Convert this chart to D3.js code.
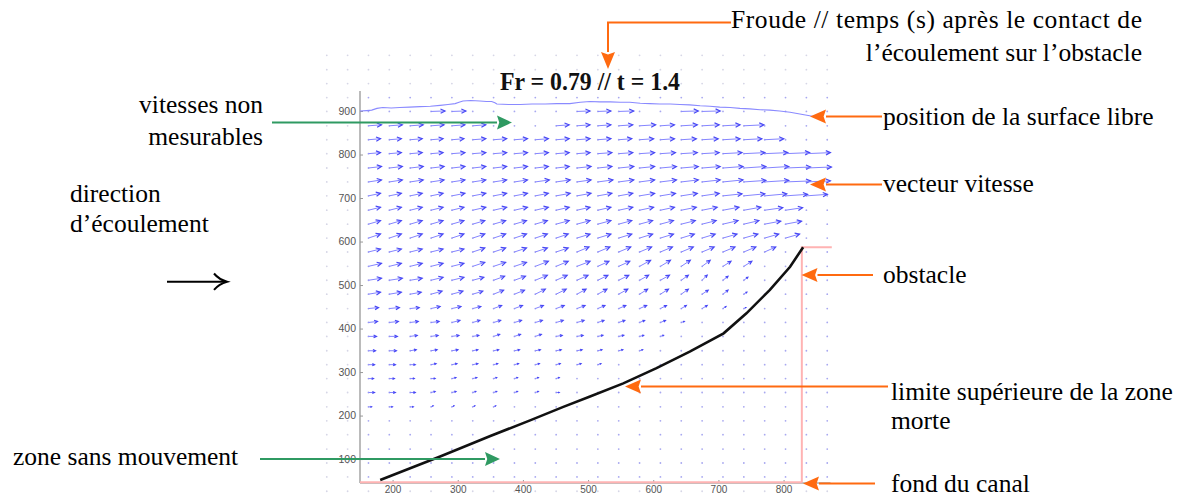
<!DOCTYPE html>
<html><head><meta charset="utf-8">
<script src="https://cdn.jsdelivr.net/npm/d3@7"></script>
<style>body{margin:0;background:#fff}svg{display:block}</style>
</head><body>
<svg id="c" width="1198" height="498"></svg>
<script>
// ---------- data ----------
const xTicks = [200,300,400,500,600,700,800];
const yTicks = [100,200,300,400,500,600,700,800,900];
const title = "Fr = 0.79 // t = 1.4";

// measurement grid (x and y positions of PIV nodes)
const gridCols = [99,131,163,195,227,259,291,323,355,387,419,451,483,515,547,579,611,643,675,707,739,771,803,835,867];
const gridRows = [1028,995,963,931,899,866,834,802,769,737,705,672,640,608,576,543,511,479,446,414,382,349,317,285,253,220,188,156,123,91,59,26];

// velocity vectors: columns / rows where vectors are measured
const vecCols = [163,195,227,259,291,323,355,387,419,451,483,515,547,579,611,643,675,707,739,771,803,835,867];
const vecRows = [899,866,834,802,769,737,705,672,640,608,576,543,511,479,446,414,382,349,317,285,253,220,188,156,123,91,59];
// horizontal component (u) per row
const U = [
 [null,null,null,14,14,null,null,null,null,null,13,13,15,null,null,17,18],
 [13,13,13,13,13,13,null,null,null,13,13,13,14,16,14,16,17,17,20],
 [12,12,12,12,12,13,13,13,13,13,13,13,13,14,14,15,16,17,18,19],
 [12,12,12,12,13,13,13,13,13,13,13,14,14,15,15,16,17,19,21,23,24,24],
 [13,13,13,13,13,13,13,13,13,13,14,14,15,15,16,17,18,20,22,24,25,25],
 [13,13,13,13,13,13,13,13,14,14,14,15,15,15,16,17,18,20,22,24,25,24],
 [12,12,12,12,13,13,13,13,13,14,14,14,14,15,15,16,17,19,21,22,22,21],
 [12,12,12,12,12,13,13,13,13,13,13,13,14,14,14,15,15,16,17,18,17],
 [12,12,12,12,12,12,12,12,12,13,13,13,13,13,13,14,14,15,15,16,16],
 [12,12,12,12,12,12,12,12,12,12,13,13,13,13,13,13,13,14,14,14,14],
 [12,12,12,12,12,12,12,12,12,12,12,12,12,12,12,12,12,12,12,11],
 [13,12,12,12,12,12,12,12,13,12,13,11,11,11,10,9,8,8,8],
 [13,13,12,12,12,11,11,11,12,11,11,10,10,9,9,7,5,5,4],
 [12,12,11,11,11,10,10,10,10,10,9,9,9,8,8,7,6,5,3],
 [10,10,9,9,9,8,8,8,8,8,8,7,7,7,6,5,5,3,2],
 [9,9,8,8,8,7,7,7,7,7,7,6,6,5,5,3],
 [8,8,7,7,7,6,6,6,6,6,6,5,5,4,3],
 [7,7,6,6,6,5,5,5,5,5,5,4,4,3],
 [6,6,5,5,5,5,4,4,4,4,4,3],
 [5,5,4,4,4,4,3,3,3,3],
 [6,6,5,4,4,3,3,3,3,3],
 [3,3,3,2,2,2,2],
 [],[],[],[],[]
];
// vertical component (v) per row
const V = [
 [0,0,0,0.5,0.5,0,0,0,0,0,0.5,0.5,0.5,0,0,0.5,0.5],
 [1,1,1,1,1,1,0,0,0,1,1,1,1,1,1,1,1,1,1],
 [1,1,1,1,1,1,1,1,1,1,1,1,1,1,1,1,1,1,1,1],
 [1,1,1,1,1,1,1,1,1,1,1,1,1,1,1,1,1,1,1,1,1,1],
 [1.5,1.5,1.5,1.5,1.5,1.5,1.5,1.5,1.5,1.5,1.5,1.5,1.5,1.5,1.5,1.5,1.5,1.5,1.5,1.5,1,1],
 [2,2,2,2,2,2,2,2,2,2,2,2,2,2,2,2,2,2,1.5,1.5,1,1],
 [2.5,2.5,2.5,2.5,2.5,2.5,2.5,2.5,2.5,2.5,2.5,2.5,2.5,2.5,2.5,2.5,2.5,2,2,2,1.5,1.5],
 [3,3,3,3,3,3,3,3,3,3,3,3,3,3,3,3,3,3,3,2.5,2.5],
 [3.5,3.5,3.5,3.5,3.5,3.5,3.5,3.5,3.5,3.5,3.5,3.5,3.5,3.5,3.5,3.5,3.5,3.5,3.5,3,3],
 [4,4,4,4,4,4,4,4,4,4,4,4,4,4,4,4,4,4,4,4,4],
 [3,3,3,3,3,4,4,4,4,4,5,5,5,5,5,5,5,5,5,5],
 [3,3,3,3,3,4,4,4,5,5,5,5,5,6,6,6,6,5,5],
 [2,2,2,3,3,3,4,4,5,5,5,5,5,5,5,5,5,4,3],
 [2,2,2,3,3,3,4,4,5,5,5,5,5,5,5,5,4,4,2],
 [1,1,1,2,2,2,3,3,3,3,3,3,3,3,3,3,3,2,1],
 [1,1,1,1,2,2,2,2,2,2,2,2,2,2,2,1],
 [0,0,1,1,1,1,2,2,2,1,1,1,1,1,1],
 [0,0,1,1,1,1,1,1,1,1,1,1,1,1],
 [0,0,0,1,1,1,1,1,1,1,1,1],
 [0,0,0,0,1,1,1,1,1,1],
 [0,0,0,1,1,1,1,1,1,0],
 [0,0,0,1,1,1,1],
 [],[],[],[],[]
];

// free surface position
const surfX = [150,160,168,176,185,198,211,226,242,258,273,285,296,302,308,320,334,344,352,357,360,378,396,414,434,452,472,488,503,518,534,549,564,580,595,610,626,641,656,672,687,702,718,733,748,764,779,794,810,825,840,848];
const surfY = [900,901,902,906,908,907,908,909,910,911,913,915,917,920,923,924,923,922,922,919,916,915,915,916,916,917,917,920,922,921,921,920,920,918,917,916,916,915,914,912,911,909,908,906,905,903,902,900,897,893,889,887];

// upper limit of the dead zone
const deadX = [181,273,350,411,462,503,554,605,656,708,743,779,810,830];
const deadY = [52,106,153,189,220,244,274,309,347,389,435,489,542,587];

// obstacle and channel bed
const obstX = [828,828,874];
const obstY = [46,587,587];
const bedX = [150,828];
const bedY = [46.5,46.5];

// ---------- drawing ----------
const svg = d3.select("#c");
const x = d3.scaleLinear().domain([150,872]).range([360,830.5]);
const y = d3.scaleLinear().domain([45,946]).range([483,91]);
const vel = d3.scaleLinear().domain([0,10]).range([0,10]); // velocity -> px

// grid dots
const dots = [];
gridRows.forEach(r => gridCols.forEach(c => dots.push([c,r])));
svg.append("g").selectAll("circle").data(dots).join("circle")
  .attr("cx", d => x(d[0])).attr("cy", d => y(d[1])).attr("r", 0.9)
  .attr("fill", d => (d[0] > 150 && d[1] > 45 && d[1] < 946) ? "#a8a8f0" : "#d6d6e6");

// axes
const axG = svg.append("g");
const yAxis = d3.axisLeft(y).tickValues(yTicks).tickSize(-3).tickPadding(4);
const gy = axG.append("g").attr("transform", `translate(${x(150)},0)`).call(yAxis);
const xAxis = d3.axisBottom(x).tickValues(xTicks).tickSize(-3).tickPadding(3);
const gx = axG.append("g").attr("transform", `translate(0,${y(45)})`).call(xAxis);
[gx, gy].forEach(g => {
  g.select(".domain").attr("stroke", "#aaaaaa").attr("stroke-width", 1.6);
  g.selectAll(".tick line").attr("stroke", "#999");
  g.selectAll(".tick text").attr("fill", "#555").attr("font-family", "Liberation Sans, Arial, sans-serif").attr("font-size", 10);
});
gy.selectAll(".tick text").attr("font-size", 10.5);
gy.select(".domain").attr("d", `M0,${y(946)}V${y(45)}`);
gx.select(".domain").attr("d", `M${x(150)},0H${x(872)}`);

// channel bed and obstacle (pink)
const line = d3.line().x(d => x(d[0])).y(d => y(d[1]));
svg.append("path").attr("d", line(bedX.map((v,i)=>[v,bedY[i]])))
  .attr("fill","none").attr("stroke","#ffb3b3").attr("stroke-width",2);
svg.append("path").attr("d", line(obstX.map((v,i)=>[v,obstY[i]])))
  .attr("fill","none").attr("stroke","#ffb3b3").attr("stroke-width",2);

// free surface
svg.append("path").attr("d", line(surfX.map((v,i)=>[v,surfY[i]])))
  .attr("fill","none").attr("stroke","#8a8aff").attr("stroke-width",1.1);

// velocity vectors (quiver)
const vecs = [];
vecRows.forEach((r,i) => (U[i]||[]).forEach((u,j) => {
  if (u !== null && u !== undefined) vecs.push({x0:vecCols[j], y0:r, u:u, v:V[i][j]||0});
}));
const qg = svg.append("g");
vecs.forEach(d => {
  const x0 = x(d.x0), y0 = y(d.y0);
  const dx = vel(d.u), dy = -vel(d.v);
  const x1 = x0 + dx, y1 = y0 + dy;
  const len = Math.hypot(dx,dy);
  const ang = Math.atan2(dy,dx);
  const hl = Math.min(5, len*0.4), ha = 0.45;
  qg.append("line").attr("x1",x0).attr("y1",y0).attr("x2",x1).attr("y2",y1)
    .attr("stroke","#8585ff").attr("stroke-width",1);
  qg.append("path")
    .attr("d", `M${x1 - hl*Math.cos(ang-ha)},${y1 - hl*Math.sin(ang-ha)}L${x1},${y1}L${x1 - hl*Math.cos(ang+ha)},${y1 - hl*Math.sin(ang+ha)}`)
    .attr("fill","none").attr("stroke","#4848f5").attr("stroke-width",1.2);
});

// dead zone upper limit
svg.append("path").attr("d", line(deadX.map((v,i)=>[v,deadY[i]])))
  .attr("fill","none").attr("stroke","#111").attr("stroke-width",2.6);

// title
svg.append("text").attr("x",590).attr("y",90).attr("text-anchor","middle")
  .attr("font-family","Liberation Serif, Times New Roman, serif").attr("font-weight","bold")
  .attr("font-size",26).attr("textLength",180).attr("lengthAdjust","spacingAndGlyphs")
  .attr("fill","#111").text(title);

// ---------- annotations ----------
const serif = "Liberation Serif, Times New Roman, serif";
const fs = 25.5;
function txt(s, tx, ty, anchor, extra) {
  const t = svg.append("text").attr("x",tx).attr("y",ty).attr("text-anchor",anchor||"start")
    .attr("font-family",serif).attr("font-size",fs).attr("fill","#000").text(s);
  if (extra) extra(t);
  return t;
}
txt("Froude // temps (s) après le contact de", 731, 28, "start", t => t.attr("textLength",411).attr("lengthAdjust","spacing"));
txt("l\u2019écoulement sur l\u2019obstacle", 1142, 61, "end");
txt("position de la surface libre", 883, 125);
txt("vecteur vitesse", 883, 192);
txt("obstacle", 883, 283);
txt("limite supérieure de la zone", 891, 400);
txt("morte", 891, 429);
txt("fond du canal", 891, 492);
txt("vitesses non", 263, 113, "end");
txt("mesurables", 263, 145, "end");
txt("direction", 70, 202);
txt("d\u2019écoulement", 70, 232);
txt("zone sans mouvement", 13, 465);

function arrow(pts, color, hl, hw, sw) {
  const n = pts.length;
  const [xa,ya] = pts[n-2], [xb,yb] = pts[n-1];
  const ang = Math.atan2(yb-ya, xb-xa);
  const bx = xb - hl*Math.cos(ang), by = yb - hl*Math.sin(ang);
  const p = pts.slice(0,n-1).concat([[bx,by]]);
  svg.append("path").attr("d", d3.line()(p)).attr("fill","none").attr("stroke",color).attr("stroke-width",sw||2);
  const nx = -Math.sin(ang)*hw, ny = Math.cos(ang)*hw;
  svg.append("path").attr("d", `M${xb},${yb}L${bx+nx},${by+ny}L${bx+hl*0.15*Math.cos(ang)},${by+hl*0.15*Math.sin(ang)}L${bx-nx},${by-ny}Z`)
    .attr("fill",color);
}
const orange = "#ff6a10", green = "#2f9a62";
arrow([[731,22.5],[608,22.5],[608,69]], orange, 17, 7);
arrow([[882,116.5],[810,116.5]], orange, 16, 7);
arrow([[882,184.5],[810,184.5]], orange, 16, 7);
arrow([[873,275],[801.5,275]], orange, 16, 7);
arrow([[888,386.5],[625,386.5]], orange, 16, 7);
arrow([[875,483.5],[803,483.5]], orange, 16, 7);
arrow([[272,122.5],[512,122.5]], green, 15, 7);
arrow([[260,459],[500,459]], green, 15, 7);

// black flow direction arrow
svg.append("path").attr("d","M167,281.7H225").attr("stroke","#000").attr("stroke-width",2).attr("fill","none");
svg.append("path").attr("d","M214,273.5Q219,279.5 227,281.7Q219,283.9 214,289.9")
  .attr("stroke","#000").attr("stroke-width",2).attr("fill","none");
</script>
</body></html>
